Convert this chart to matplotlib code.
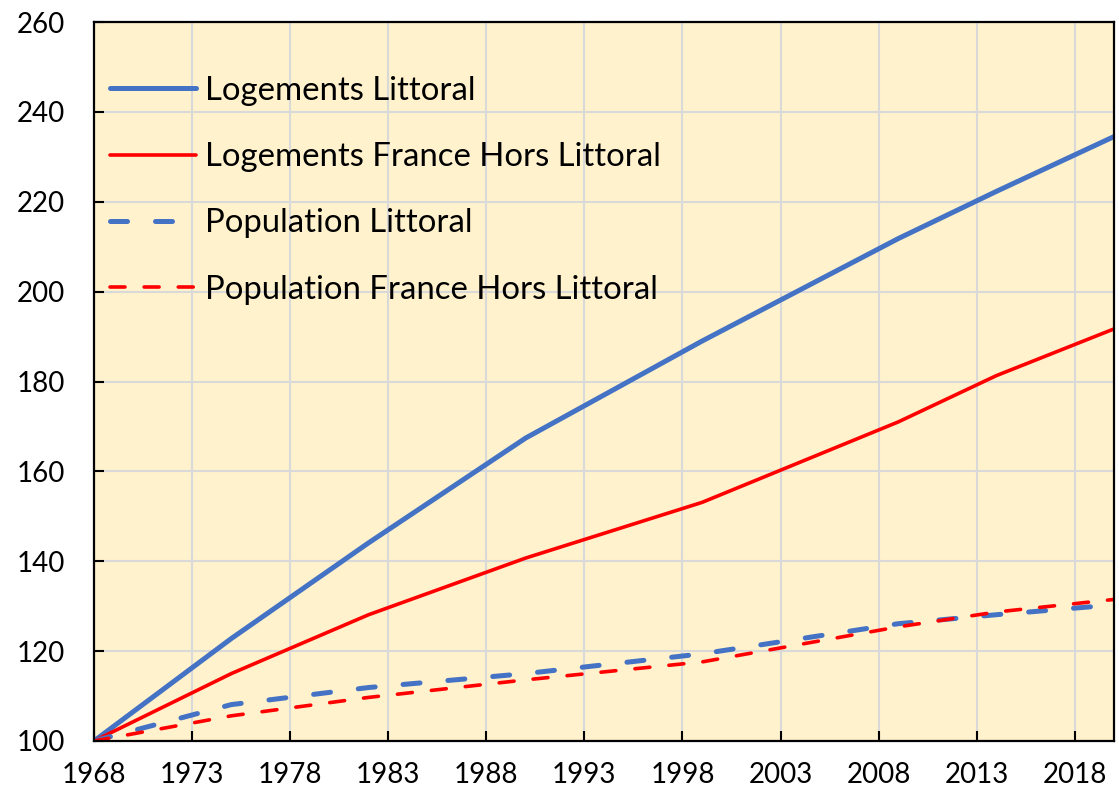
import matplotlib
matplotlib.use("Agg")
import matplotlib.pyplot as plt

# Indices base 100 en 1968 (recensements)
years = [1968, 1975, 1982, 1990, 1999, 2009, 2014, 2020]
logements_littoral = [100, 122.8, 144.1, 167.4, 189.0, 211.8, 222.3, 234.5]
logements_hors_littoral = [100, 115.0, 128.1, 140.7, 153.1, 171.0, 181.3, 191.7]
population_littoral = [100, 108.1, 111.9, 115.0, 119.4, 126.1, 128.1, 130.3]
population_hors_littoral = [100, 105.6, 109.7, 113.6, 117.6, 125.4, 128.7, 131.5]

x_ticks = list(range(1968, 2019, 5))
y_ticks = list(range(100, 261, 20))

plt.rcParams['font.family'] = ['Lato', 'DejaVu Sans']

BLUE = '#4472C4'
RED = '#FF0000'

fig = plt.figure(figsize=(11.19, 7.92), dpi=100)
ax = fig.add_axes([0.084, 0.0644, 0.9115, 0.9078])
ax.set_facecolor('#FFF2CC')

ax.plot(years, logements_littoral, color=BLUE, lw=3.6, solid_capstyle='round',
        label='Logements Littoral')
ax.plot(years, logements_hors_littoral, color=RED, lw=2.6, solid_capstyle='round',
        label='Logements France Hors Littoral')
ax.plot(years, population_littoral, color=BLUE, lw=3.6, linestyle=(0, (3.4, 5.6)),
        dash_capstyle='round', label='Population Littoral')
ax.plot(years, population_hors_littoral, color=RED, lw=2.6, linestyle=(0, (4.15, 5.3)),
        dash_capstyle='round', label='Population France Hors Littoral')

ax.set_xlim(1968, 2020)
ax.set_ylim(100, 260)
ax.set_xticks(x_ticks)
ax.set_yticks(y_ticks)
ax.grid(True, color='#D9D9D9', lw=1.5)
ax.set_axisbelow(True)
for s in ax.spines.values():
    s.set_linewidth(1.6)
    s.set_color('black')
ax.tick_params(direction='in', length=7, width=1.5, labelsize=20, colors='black')
ax.tick_params(axis='y', pad=21)
ax.tick_params(axis='x', pad=15)

leg = ax.legend(loc='upper left', bbox_to_anchor=(0.0157, 0.925), frameon=False,
                fontsize=23.7, handlelength=2.6, handletextpad=0.3, labelspacing=1.1,
                borderpad=0, borderaxespad=0)

fig.savefig('out.png', dpi=100)
